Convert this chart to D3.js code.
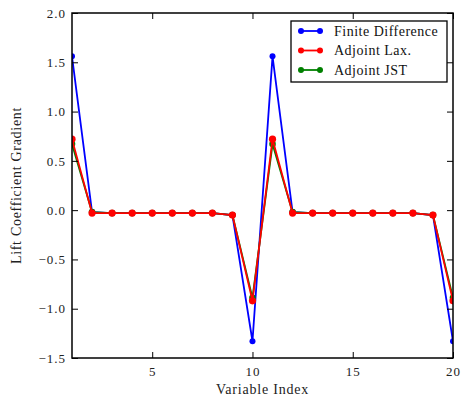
<!DOCTYPE html>
<html><head><meta charset="utf-8">
<script src="https://cdn.jsdelivr.net/npm/d3@7"></script>
<style>body{margin:0;background:#fff}svg{display:block}text{font-family:"Liberation Serif","DejaVu Serif",serif}</style>
</head><body><svg id="c" width="463" height="404"></svg>
<script>
const xIndex = [1,2,3,4,5,6,7,8,9,10,11,12,13,14,15,16,17,18,19,20];
const finiteDifference = [1.56,-0.02,-0.03,-0.03,-0.03,-0.03,-0.03,-0.03,-0.05,-1.33,1.56,-0.02,-0.03,-0.03,-0.03,-0.03,-0.03,-0.03,-0.05,-1.33];
const adjointLax = [0.72,-0.03,-0.03,-0.03,-0.03,-0.03,-0.03,-0.03,-0.05,-0.92,0.72,-0.03,-0.03,-0.03,-0.03,-0.03,-0.03,-0.03,-0.05,-0.92];
const adjointJST = [0.67,-0.02,-0.03,-0.03,-0.03,-0.03,-0.03,-0.03,-0.05,-0.89,0.67,-0.02,-0.03,-0.03,-0.03,-0.03,-0.03,-0.03,-0.05,-0.89];
const xTicks = [5,10,15,20];
const yTicks = [-1.5,-1.0,-0.5,0.0,0.5,1.0,1.5,2.0];
const seriesNames = ["Finite Difference","Adjoint Lax.","Adjoint JST"];
const seriesColors = ["#0000ff","#ff0000","#008000"];

const L=72,R=453,T=13,B=358;
const svg=d3.select("#c");
const x=d3.scaleLinear().domain([1,20]).range([L,R]);
const y=d3.scaleLinear().domain([-1.5,2.0]).range([B,T]);
const fmt=v=>v.toFixed(1).replace("-","\u2212");

const series=[
  {name:seriesNames[0],vals:finiteDifference,color:seriesColors[0],r:3},
  {name:seriesNames[2],vals:adjointJST,color:seriesColors[2],r:3.3},
  {name:seriesNames[1],vals:adjointLax,color:seriesColors[1],r:3.6}
];
svg.append("clipPath").attr("id","cp").append("rect").attr("x",L).attr("y",T).attr("width",R-L).attr("height",B-T);
const plot=svg.append("g").attr("clip-path","url(#cp)");
const line=d3.line().x((d,i)=>x(xIndex[i])).y(d=>y(d));
series.forEach(s=>{
  plot.append("path").attr("d",line(s.vals)).attr("fill","none").attr("stroke",s.color).attr("stroke-width",1.8);
  plot.selectAll(null).data(s.vals).enter().append("circle")
    .attr("cx",(d,i)=>x(xIndex[i])).attr("cy",d=>y(d)).attr("r",s.r).attr("fill",s.color);
});

const ax=svg.append("g");
ax.append("g").attr("transform",`translate(0,${B})`).call(d3.axisBottom(x).tickValues(xTicks).tickSize(-6).tickPadding(9).tickFormat(d3.format("d")));
ax.append("g").attr("transform",`translate(0,${T})`).call(d3.axisTop(x).tickValues(xTicks).tickSize(-6).tickFormat(""));
ax.append("g").attr("transform",`translate(${L},0)`).call(d3.axisLeft(y).tickValues(yTicks).tickSize(-6).tickPadding(6).tickFormat(fmt));
ax.append("g").attr("transform",`translate(${R},0)`).call(d3.axisRight(y).tickValues(yTicks).tickSize(-6).tickFormat(""));
ax.selectAll(".domain").remove();
ax.selectAll(".tick line").attr("stroke","#000").attr("stroke-width",1);
ax.selectAll(".tick text").attr("font-size",13).attr("letter-spacing","1px").attr("fill","#222");
svg.append("rect").attr("x",L).attr("y",T).attr("width",R-L).attr("height",B-T).attr("fill","none").attr("stroke","#000").attr("stroke-width",1.5);

svg.append("text").attr("x",(L+R)/2).attr("y",394).attr("text-anchor","middle").attr("font-size",14).attr("letter-spacing","0.8px").attr("fill","#222").text("Variable Index");
svg.append("text").attr("transform",`translate(21,${(T+B)/2}) rotate(-90)`).attr("text-anchor","middle").attr("font-size",14).attr("letter-spacing","0.7px").attr("fill","#222").text("Lift Coefficient Gradient");

const lg=svg.append("g");
lg.append("rect").attr("x",291).attr("y",21).attr("width",156).attr("height",61).attr("fill","#fff").attr("stroke","#000").attr("stroke-width",1.3);
[0,1,2].forEach((k,i)=>{
  const yy=31+i*19.5;
  lg.append("line").attr("x1",301).attr("x2",320).attr("y1",yy).attr("y2",yy).attr("stroke",seriesColors[k]).attr("stroke-width",1.8);
  [301,320].forEach(cx=>lg.append("circle").attr("cx",cx).attr("cy",yy).attr("r",3).attr("fill",seriesColors[k]));
  lg.append("text").attr("x",334).attr("y",yy+4.5).attr("font-size",14).attr("letter-spacing","0.5px").attr("fill","#111").text(seriesNames[k]);
});
</script></body></html>
